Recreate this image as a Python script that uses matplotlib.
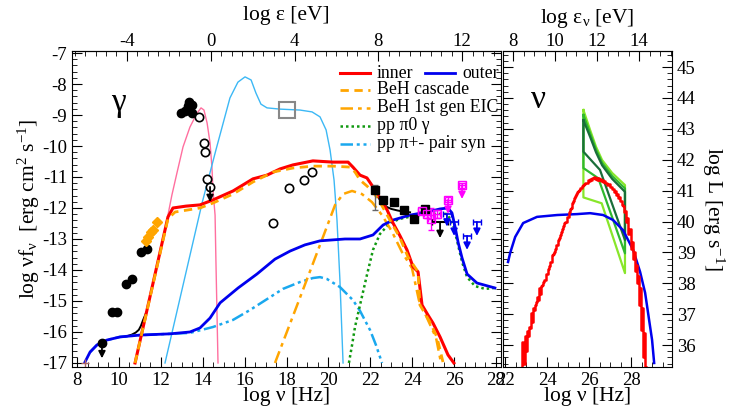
import matplotlib
matplotlib.use('Agg')
import matplotlib.pyplot as plt
from matplotlib.ticker import MultipleLocator

plt.rcParams['font.family'] = ['Liberation Serif', 'DejaVu Serif']
plt.rcParams['mathtext.fontset'] = 'custom'
plt.rcParams['mathtext.rm'] = 'Liberation Serif'
plt.rcParams['mathtext.it'] = 'Liberation Serif:italic'
plt.rcParams['axes.unicode_minus'] = False

LOG_H = 14.383  # log nu [Hz] - log eps [eV]

# ---------------- gamma panel: model curves (log nu, log nuFnu) ----------------
inner_x = [10.77, 12.34, 12.58, 13.20, 13.87, 14.49, 15.45, 16.40, 17.07, 17.69, 18.31, 19.26,
           20.22, 20.94, 21.17, 21.51, 21.84, 22.13, 22.46, 22.80, 23.08, 23.42, 23.75, 24.04,
           24.28, 24.47, 24.75, 24.99, 25.33, 25.71, 25.99]
inner_y = [-17.0, -12.29, -12.0, -11.94, -11.90, -11.74, -11.45, -11.06, -10.94, -10.74, -10.61, -10.48,
           -10.52, -10.52, -10.68, -10.94, -11.03, -11.32, -11.68, -12.06, -12.48, -12.90, -13.35, -13.90,
           -14.06, -15.13, -15.45, -15.71, -16.16, -16.74, -17.0]

outer_x = [8.38, 8.62, 8.95, 9.43, 10.05, 11.01, 12.44, 13.39, 13.87, 14.35, 14.83, 15.69, 16.59,
           17.45, 18.17, 18.88, 19.60, 20.79, 21.51, 22.13, 22.61, 23.08, 23.89, 24.71, 25.33, 25.71,
           25.90, 26.04, 26.19, 26.38, 26.62, 27.09, 27.95]
outer_y = [-16.97, -16.65, -16.42, -16.26, -16.16, -16.10, -16.06, -16.0, -15.87, -15.55, -15.06, -14.58,
           -14.13, -13.65, -13.39, -13.19, -13.06, -13.0, -13.0, -12.87, -12.55, -12.39, -12.23, -12.13,
           -12.03, -12.0, -12.16, -12.58, -13.10, -13.61, -14.13, -14.42, -14.58]

cascade_x = [10.77, 12.34, 12.68, 13.87, 14.49, 15.45, 16.40, 17.36, 18.31, 19.26, 20.22, 21.03, 21.27,
             21.51, 21.84, 22.13, 22.46, 22.94, 23.42, 23.80, 24.28, 24.37, 24.85, 25.18, 25.47]
cascade_y = [-17.0, -12.35, -12.13, -12.0, -11.84, -11.55, -11.16, -10.84, -10.71, -10.65, -10.65, -10.68,
             -10.84, -11.10, -11.29, -11.48, -11.81, -12.39, -12.97, -13.58, -14.06, -15.13, -15.68,
             -16.16, -16.97]

eic_x = [17.45, 18.55, 19.69, 20.32, 20.70, 21.13, 21.60, 22.08, 22.56, 23.04, 23.51, 23.99, 24.32,
         24.75, 25.14, 25.37]
eic_y = [-17.0, -15.06, -13.03, -11.90, -11.55, -11.45, -11.55, -11.81, -12.23, -12.77, -13.42, -13.94,
         -14.97, -15.61, -16.19, -16.97]

pi0_x = [20.98, 21.13, 21.27, 21.51, 21.84, 22.13, 22.46, 22.94, 23.42, 24.04, 24.85, 25.66, 25.95,
         26.19, 26.38, 26.62, 27.0, 27.48, 27.95]
pi0_y = [-17.0, -16.42, -15.84, -15.13, -14.16, -13.35, -12.84, -12.48, -12.35, -12.26, -12.19, -12.19,
         -12.52, -13.19, -13.74, -14.23, -14.52, -14.61, -14.58]

pairsyn_x = [8.62, 8.95, 9.43, 10.05, 11.01, 12.44, 13.39, 14.49, 15.45, 16.26, 17.07, 17.83, 18.64,
             19.26, 19.60, 19.93, 20.55, 21.17, 21.51, 21.99, 22.27, 22.56]
pairsyn_y = [-16.65, -16.42, -16.26, -16.16, -16.10, -16.06, -16.03, -15.84, -15.61, -15.29, -14.94,
             -14.61, -14.39, -14.26, -14.23, -14.29, -14.55, -14.97, -15.32, -15.94, -16.42, -17.0]

total_lo_x = [10.3, 10.6, 10.8, 10.95, 11.05, 11.15, 11.3]
total_lo_y = [-16.15, -16.09, -16.02, -15.93, -15.8, -15.62, -15.38]
total_hi_x = [22.2, 22.4, 22.6, 22.8, 23.0, 23.3, 23.6, 23.9]
total_hi_y = [-11.45, -11.68, -11.86, -11.97, -12.03, -12.08, -12.12, -12.14]

disk_x = [12.20, 13.97, 14.63, 15.30, 15.68, 16.02, 16.31, 16.54, 16.78, 17.07, 17.69, 18.64, 19.22,
          19.60, 19.89, 20.08, 20.27, 20.41, 20.55, 20.70]
disk_y = [-17.0, -11.84, -10.13, -8.45, -7.94, -7.77, -7.87, -8.29, -8.65, -8.77, -8.81, -8.84, -8.90,
          -9.06, -9.48, -10.13, -11.10, -12.39, -14.32, -17.0]

dust_x = [12.34, 12.53, 12.77, 13.06, 13.39, 13.73, 13.92, 14.06, 14.21, 14.35, 14.44, 14.49, 14.59,
          14.63, 14.73]
dust_y = [-12.23, -11.58, -10.87, -10.03, -9.39, -8.94, -8.77, -8.84, -9.26, -9.90, -10.68, -11.42,
          -12.23, -13.68, -17.0]

# ---------------- gamma panel: observations ----------------
radio_x = [9.67, 9.91, 10.34, 10.62, 11.05, 11.34]
radio_y = [-15.35, -15.35, -14.45, -14.29, -13.42, -13.32]
ir_x = [12.98, 13.15, 13.30, 13.35, 13.50, 13.50]
ir_y = [-8.95, -8.88, -8.72, -8.58, -8.68, -8.92]
diamond_x = [11.29, 11.39, 11.53, 11.63, 11.82]
diamond_y = [-13.06, -12.94, -12.77, -12.71, -12.45]
open_x = [13.82, 14.06, 14.11, 14.21, 17.36, 18.12, 18.83, 19.22]
open_y = [-9.06, -9.90, -10.19, -11.06, -12.48, -11.35, -11.10, -10.84]
lat_x = [22.22, 22.61, 23.13, 23.61, 24.09, 24.61]
lat_y = [-11.42, -11.74, -11.81, -12.06, -12.35, -12.03]
lat_err_lo = [0.64, 0, 0, 0, 0, 0]
lat_err_hi = [0.16, 0, 0, 0, 0, 0]
tev_x = [24.45, 24.70, 24.90, 25.20]
tev_y = [-12.10, -12.20, -12.35, -12.20]
tev_yerr = [0.10, 0.12, 0.36, 0.12]
xray_box = (18.02, -8.84)

# upper limits: x, y, arrow length, half width of bar
ul_black_x = [9.19, 14.35, 25.33]
ul_black_y = [-16.35, -11.32, -12.45]
ul_black_len = [0.50, 0.49, 0.52]
ul_black_xerr = [0, 0, 0.4]
ul_mag_x = [25.71, 26.38]
ul_mag_y = [-11.74, -11.26]
ul_mag_len = [0.45, 0.45]
ul_blue_x = [25.66, 26.00, 26.62, 27.09]
ul_blue_y = [-12.20, -12.45, -12.90, -12.45]
ul_blue_len = [0.40, 0.45, 0.45, 0.45]

# ---------------- neutrino panel (log nu, log L) ----------------
nu_red_x = [22.80, 22.85, 22.90, 22.95, 23.00, 23.05, 23.10, 23.15, 23.20, 23.25, 23.30, 23.35,
            23.40, 23.45, 23.50, 23.55, 23.60, 23.65, 23.70, 23.75, 23.80, 23.85, 23.90, 23.95,
            24.00, 24.05, 24.10, 24.15, 24.20, 24.25, 24.30, 24.35, 24.40, 24.45, 24.50, 24.55,
            24.60, 24.65, 24.70, 24.75, 24.80, 24.85, 24.90, 24.95, 25.00, 25.05, 25.10, 25.15,
            25.20, 25.25, 25.30, 25.35, 25.40, 25.45, 25.50, 25.55, 25.60, 25.65, 25.70, 25.75,
            25.80, 25.85, 25.90, 25.95, 26.00, 26.05, 26.10, 26.15, 26.20, 26.25, 26.30, 26.35,
            26.40, 26.45, 26.50, 26.55, 26.60, 26.65, 26.70, 26.75, 26.80, 26.85, 26.90, 26.95,
            27.00, 27.05, 27.10, 27.15, 27.20, 27.25, 27.30, 27.35, 27.40, 27.45, 27.50, 27.55,
            27.60, 27.65, 27.70, 27.75, 27.80, 27.85, 27.90, 27.95, 28.00, 28.05, 28.10, 28.15,
            28.20, 28.25, 28.30, 28.35, 28.40, 28.45, 28.50, 28.55, 28.60, 28.65, 28.70]
nu_red_y = [35.30, 36.10, 35.40, 36.30, 35.80, 36.45, 36.30, 36.60, 36.55, 37.05, 36.75, 37.20,
            37.15, 37.30, 37.40, 37.55, 37.45, 37.85, 37.65, 37.90, 37.95, 38.05, 38.10, 38.30,
            38.30, 38.45, 38.55, 38.70, 38.70, 38.90, 38.95, 39.00, 39.10, 39.25, 39.25, 39.40,
            39.45, 39.55, 39.65, 39.75, 39.85, 39.95, 40.00, 40.15, 40.15, 40.30, 40.40, 40.45,
            40.60, 40.65, 40.75, 40.82, 40.88, 40.95, 40.98, 41.02, 41.08, 41.10, 41.15, 41.18,
            41.20, 41.26, 41.25, 41.33, 41.32, 41.38, 41.36, 41.42, 41.40, 41.43, 41.38, 41.42,
            41.36, 41.40, 41.35, 41.37, 41.32, 41.34, 41.29, 41.30, 41.24, 41.26, 41.18, 41.20,
            41.12, 41.13, 41.05, 41.06, 40.97, 40.98, 40.86, 40.90, 40.76, 40.78, 40.65, 40.66,
            40.52, 40.50, 40.30, 40.35, 40.00, 40.10, 39.60, 39.75, 39.10, 39.35, 38.80, 39.00,
            38.40, 38.60, 38.00, 38.25, 37.30, 37.85, 36.50, 37.20, 35.60, 36.40, 35.30]
nu_blue_x = [22.14, 22.24, 22.48, 22.86, 23.52, 24.48, 25.43, 26.05, 26.67, 27.14, 27.62, 28.10, 28.43,
             28.67, 28.86, 29.0, 29.10]
nu_blue_y = [38.69, 38.98, 39.50, 39.95, 40.15, 40.21, 40.24, 40.27, 40.21, 40.05, 39.72, 39.08, 38.37,
             37.69, 36.81, 36.17, 35.42]

# closed outlines of the neutrino flux bands
band_light_x = [25.73, 26.05, 26.33, 26.62, 27.10, 27.71, 27.71, 26.60, 25.73, 25.73]
band_light_y = [43.61, 42.96, 42.42, 41.99, 41.57, 41.18, 38.33, 40.59, 40.78, 43.61]
band_mid_x = [25.73, 26.05, 26.33, 26.62, 27.10, 27.71, 27.71, 26.44, 25.73, 25.73]
band_mid_y = [43.45, 42.85, 42.33, 41.90, 41.47, 41.07, 38.97, 41.40, 41.73, 43.45]
band_dark_x = [25.73, 26.05, 26.33, 26.62, 27.10, 27.71, 27.71, 26.52, 25.73, 25.73]
band_dark_y = [43.28, 42.74, 42.24, 41.82, 41.38, 40.96, 39.40, 41.67, 42.26, 43.28]

# ---------------- figure ----------------
W, H = 748, 413
TICK_FS = 13.5
LABEL_FS = 15.5
fig = plt.figure(figsize=(W / 100, H / 100), dpi=100)
ax1 = fig.add_axes([72 / W, 1 - 367 / H, (501 - 72) / W, (367 - 51) / H])
ax2 = fig.add_axes([503 / W, 1 - 367 / H, (672 - 503) / W, (367 - 51) / H])

ax1.plot(dust_x, dust_y, color='#ff6f9f', lw=1.0)
ax1.plot(disk_x, disk_y, color='#3cb8f5', lw=1.0)
ax1.plot(total_lo_x, total_lo_y, color='black', lw=1.4)
ax1.plot(total_hi_x, total_hi_y, color='black', lw=1.4)
ax1.plot(pairsyn_x, pairsyn_y, color='#1aa8ee', lw=1.8, dashes=(5, 1.5, 1.2, 1.5, 1.2, 1.5))
ax1.plot(pi0_x, pi0_y, color='#119911', lw=1.8, dashes=(1, 1.2))
ax1.plot(eic_x, eic_y, color='#ffa500', lw=1.8, dashes=(5, 2, 1.5, 2))
ax1.plot(outer_x, outer_y, color='#0000ee', lw=2.0)
ax1.plot(inner_x, inner_y, color='#ff0000', lw=2.2)
ax1.plot(cascade_x, cascade_y, color='#ffa500', lw=2.0, dashes=(3, 2))

ax1.plot(radio_x, radio_y, 'o', color='black', ms=6)
ax1.plot(ir_x, ir_y, 'o', color='black', ms=6)
ax1.plot(diamond_x, diamond_y, 'D', color='#ffa500', ms=5.5)
ax1.plot(open_x, open_y, 'o', mfc='white', mec='black', mew=1.2, ms=6)
ax1.errorbar(lat_x, lat_y, yerr=[lat_err_lo, lat_err_hi], fmt='s', color='black', ecolor='#666666',
             ms=6, capsize=2, elinewidth=1)
ax1.errorbar(tev_x, tev_y, xerr=0.15, yerr=tev_yerr, fmt='s', mfc='none', mec='#ff00ff', ecolor='#ff00ff',
             ms=6, capsize=2, elinewidth=1, mew=1)
ax1.plot(*xray_box, 's', mfc='none', mec='#888888', mew=1.5, ms=11)
ax1.plot([8.38], [-17.0], '+', color='#aa6666', ms=6)

ax1.plot([ul_black_x[0]], [ul_black_y[0]], 'o', color='black', ms=6)
ax1.plot([ul_black_x[1]], [ul_black_y[1]], 'o', mfc='white', mec='black', mew=1.2, ms=6)
ax1.errorbar(ul_black_x[2:], ul_black_y[2:], xerr=ul_black_xerr[2:], fmt='none', ecolor='black', capsize=2)
ax1.errorbar(ul_mag_x, ul_mag_y, xerr=0.15, yerr=0.08, fmt='s', mfc='none', mec='#ff00ff',
             ecolor='#ff00ff', ms=6, capsize=2, elinewidth=1)
ax1.errorbar(ul_blue_x, ul_blue_y, xerr=0.18, fmt='none', ecolor='#0000ee', capsize=2.5, elinewidth=1.2)

for xs, ys, ls, c in [(ul_black_x, ul_black_y, ul_black_len, 'black'),
                      (ul_mag_x, ul_mag_y, ul_mag_len, '#ff00ff'),
                      (ul_blue_x, ul_blue_y, ul_blue_len, '#0000ee')]:
    for x, y, l in zip(xs, ys, ls):
        ax1.annotate('', xy=(x, y - l), xytext=(x, y),
                     arrowprops=dict(arrowstyle='-|>', color=c, lw=1.3, mutation_scale=10,
                                     shrinkA=0, shrinkB=0))

ax1.set_xlim(7.76, 28.24)
ax1.set_ylim(-17.13, -6.935)
ax1.xaxis.set_major_locator(MultipleLocator(2))
ax1.xaxis.set_minor_locator(MultipleLocator(0.5))
ax1.yaxis.set_major_locator(MultipleLocator(1))
ax1.yaxis.set_minor_locator(MultipleLocator(0.2))
ax1.tick_params(which='both', direction='in', top=False, right=True, labelsize=TICK_FS)
ax1.tick_params(which='major', length=7)
ax1.tick_params(which='minor', length=3.5)
ax1.set_xlabel('log ν [Hz]', fontsize=LABEL_FS, labelpad=-1)
ax1.set_ylabel('log νf$_{\\mathrm{ν}}$  [erg cm$^{2}$ s$^{-1}$]', fontsize=LABEL_FS, labelpad=0)

top1 = ax1.secondary_xaxis('top', functions=(lambda v: v - LOG_H, lambda e: e + LOG_H))
top1.xaxis.set_major_locator(MultipleLocator(4))
top1.xaxis.set_minor_locator(MultipleLocator(0.5))
top1.tick_params(which='both', direction='in', labelsize=TICK_FS, pad=1)
top1.tick_params(which='major', length=7)
top1.tick_params(which='minor', length=3.5)
top1.set_xlabel('log ε [eV]', fontsize=LABEL_FS, labelpad=9)

ax1.text(0.107, 0.835, 'γ', transform=ax1.transAxes, fontsize=24, ha='center', va='center')

# legend drawn by hand (two entries share the first row)
leg_rows = [0.930, 0.877, 0.820, 0.763, 0.706]
leg_items = [
    ('inner', dict(color='#ff0000', lw=2.2)),
    ('BeH cascade', dict(color='#ffa500', lw=2.0, dashes=(3, 2))),
    ('BeH 1st gen EIC', dict(color='#ffa500', lw=1.8, dashes=(5, 2, 1.5, 2))),
    ('pp π0 γ', dict(color='#119911', lw=1.8, dashes=(1, 1.2))),
    ('pp π+- pair syn', dict(color='#1aa8ee', lw=1.8, dashes=(5, 1.5, 1.2, 1.5, 1.2, 1.5))),
]
for yy, (lab, kw) in zip(leg_rows, leg_items):
    ax1.plot([0.625, 0.695], [yy, yy], transform=ax1.transAxes, **kw)
    ax1.text(0.711, yy, lab, transform=ax1.transAxes, fontsize=12.8, va='center', ha='left')
ax1.plot([0.823, 0.893], [leg_rows[0]] * 2, transform=ax1.transAxes, color='#0000ee', lw=2.0)
ax1.text(0.909, leg_rows[0], 'outer', transform=ax1.transAxes, fontsize=12.8, va='center', ha='left')

# ---------------- neutrino panel ----------------
ax2.plot(band_light_x, band_light_y, color='#88e62a', lw=1.6)
ax2.plot(band_mid_x, band_mid_y, color='#2fb82f', lw=1.6)
ax2.plot(band_dark_x, band_dark_y, color='#1a6e3a', lw=1.6)
ax2.plot(nu_blue_x, nu_blue_y, color='#0000ee', lw=1.8)
ax2.plot(nu_red_x, nu_red_y, color='#ff0000', lw=1.8, drawstyle='steps-mid')

ax2.set_xlim(21.9, 29.95)
ax2.set_ylim(35.29, 45.52)
ax2.xaxis.set_major_locator(MultipleLocator(2))
ax2.xaxis.set_minor_locator(MultipleLocator(0.5))
ax2.yaxis.set_major_locator(MultipleLocator(1))
ax2.yaxis.set_minor_locator(MultipleLocator(0.2))
ax2.yaxis.tick_right()
ax2.yaxis.set_label_position('right')
ax2.tick_params(which='both', direction='in', left=True, right=True, top=False,
                labelleft=False, labelright=True, labelsize=TICK_FS)
ax2.tick_params(which='major', length=7)
ax2.tick_params(which='minor', length=3.5)
ax2.set_xlabel('log ν [Hz]', fontsize=LABEL_FS, labelpad=-1)
ax2.set_ylabel('log L [erg s$^{-1}$]', fontsize=LABEL_FS, rotation=270, labelpad=22)

top2 = ax2.secondary_xaxis('top', functions=(lambda v: v - LOG_H, lambda e: e + LOG_H))
top2.xaxis.set_major_locator(MultipleLocator(2))
top2.xaxis.set_minor_locator(MultipleLocator(0.5))
top2.tick_params(which='both', direction='in', labelsize=TICK_FS, pad=1)
top2.tick_params(which='major', length=7)
top2.tick_params(which='minor', length=3.5)
top2.set_xlabel('log ε$_{\\mathrm{ν}}$ [eV]', fontsize=LABEL_FS, labelpad=7)

ax2.text(0.207, 0.845, 'ν', transform=ax2.transAxes, fontsize=24, ha='center', va='center')

fig.savefig('out.png', dpi=100)
